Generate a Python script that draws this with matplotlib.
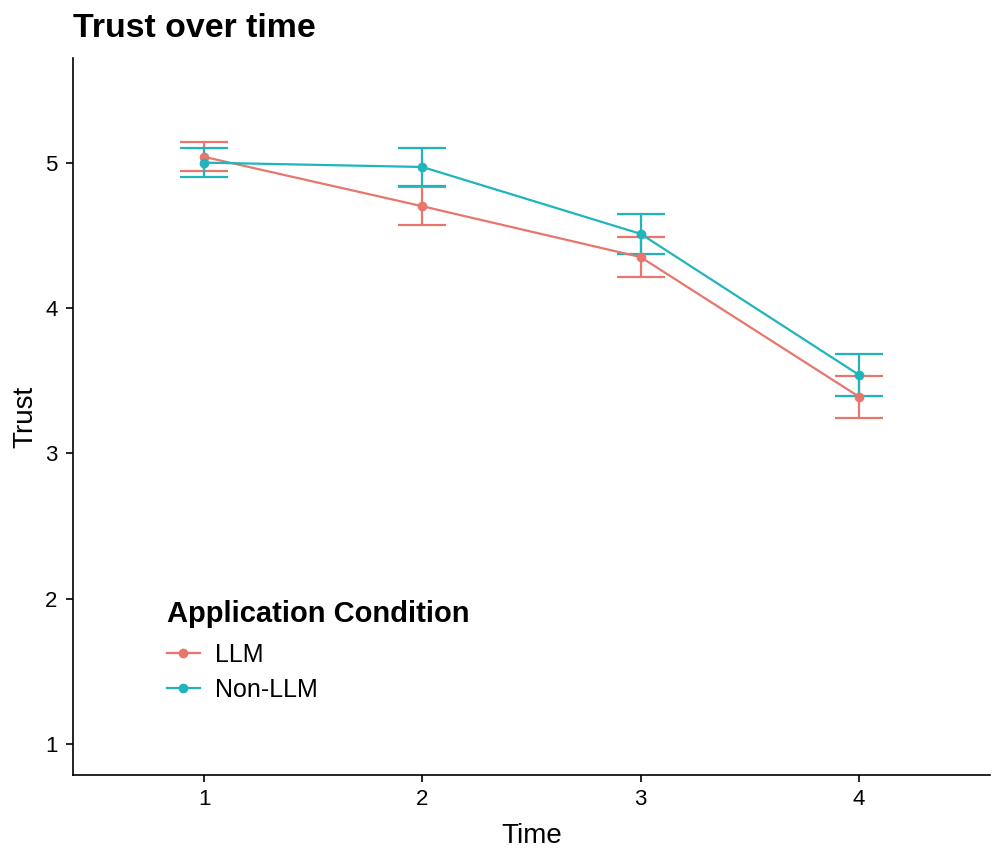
import matplotlib
matplotlib.use("Agg")
import matplotlib.pyplot as plt
from matplotlib.lines import Line2D

plt.rcParams['font.family'] = ['Liberation Sans', 'DejaVu Sans']

time = [1, 2, 3, 4]
llm_mean = [5.04, 4.70, 4.35, 3.39]
llm_err = [0.10, 0.13, 0.14, 0.145]
nonllm_mean = [5.00, 4.97, 4.51, 3.54]
nonllm_err = [0.10, 0.13, 0.14, 0.145]
series = ["LLM", "Non-LLM"]
colors = ["#E8766D", "#1FB5BB"]

fig = plt.figure(figsize=(10, 8.52), dpi=100)
ax = fig.add_axes([0.073, 0.090, 0.917, 0.842])

for mean, err, col in [(llm_mean, llm_err, colors[0]), (nonllm_mean, nonllm_err, colors[1])]:
    ax.errorbar(time, mean, yerr=err, color=col, lw=1.6, marker='o', ms=6,
                capsize=17, capthick=1.6, elinewidth=1.6)

ax.set_xlim(0.4, 4.6)
ax.set_ylim(0.786, 5.72)
ax.set_xticks(time)
ax.set_yticks([1, 2, 3, 4, 5])
for s in ['top', 'right']:
    ax.spines[s].set_visible(False)
for s in ['left', 'bottom']:
    ax.spines[s].set_linewidth(1.2)
ax.tick_params(labelsize=16, length=5, width=1.2, colors='black', pad=5)
ax.tick_params(axis='y', pad=6)
ax.set_xlabel("Time", fontsize=20, labelpad=9)
ax.set_ylabel("Trust", fontsize=20, labelpad=5)
fig.text(0.073, 0.948, "Trust over time", fontsize=24.4, fontweight='bold', va='bottom', ha='left')

handles = [Line2D([], [], color=c, marker='o', ms=6, lw=1.6) for c in colors]
leg = ax.legend(handles, series, title="Application Condition", loc='upper left',
                bbox_to_anchor=(0.078, 0.276), frameon=False, fontsize=18,
                title_fontproperties={'weight': 'bold', 'size': 21}, handlelength=1.3,
                labelspacing=0.42, handletextpad=0.6)
leg._legend_box.align = "left"
leg._legend_box.sep = 11

fig.savefig("out.png", dpi=100)
